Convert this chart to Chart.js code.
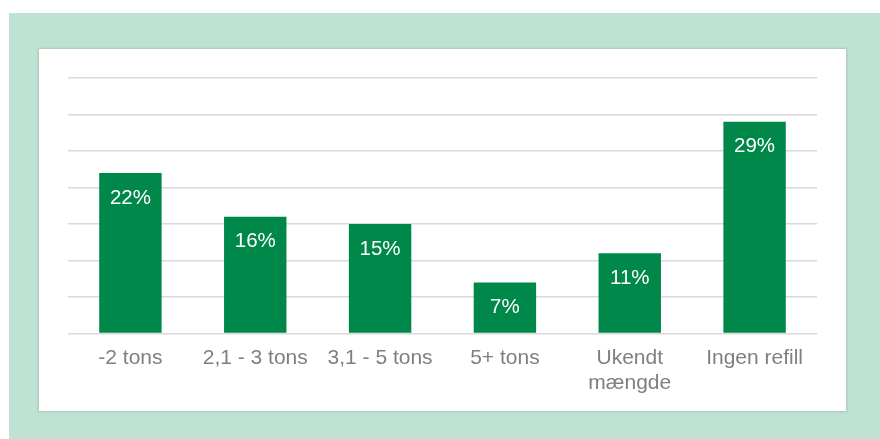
<!DOCTYPE html>
<html>
<head>
<meta charset="utf-8">
<script src="https://cdn.jsdelivr.net/npm/chart.js@4.4.0/dist/chart.umd.min.js"></script>
<style>
  html, body { margin: 0; padding: 0; background: #fff; }
  body { width: 880px; height: 439px; position: relative; overflow: hidden; }
  .frame { position: absolute; left: 9px; top: 13px; right: 0; bottom: 0; background: #c0e2d2; }
  .panel { position: absolute; left: 39px; top: 49px; width: 807px; height: 362px; background: #fff;
           box-shadow: 0 0 2px 1px rgba(0,0,0,0.12); }
</style>
</head>
<body>
<div class="frame"></div>
<div class="panel"><canvas id="chart" width="807" height="362"></canvas></div>
<script>
// chart data
const categories = ['-2 tons', '2,1 - 3 tons', '3,1 - 5 tons', '5+ tons', ['Ukendt', 'mængde'], 'Ingen refill'];
const shares = [22, 16, 15, 7, 11, 29];
const valueLabels = ['22%', '16%', '15%', '7%', '11%', '29%'];

// draws the white % label just inside the top of each bar
const barLabels = {
  id: 'barLabels',
  afterDatasetsDraw(chart) {
    const ctx = chart.ctx;
    const meta = chart.getDatasetMeta(0);
    ctx.save();
    ctx.fillStyle = '#ffffff';
    ctx.font = '20.5px "Liberation Sans", Arial, sans-serif';
    ctx.textAlign = 'center';
    ctx.textBaseline = 'middle';
    meta.data.forEach((bar, i) => {
      ctx.fillText(valueLabels[i], bar.x, bar.y + 25);
    });
    ctx.restore();
  }
};

new Chart(document.getElementById('chart'), {
  type: 'bar',
  data: {
    labels: categories,
    datasets: [{
      data: shares,
      backgroundColor: '#00874a',
      barPercentage: 0.5,
      categoryPercentage: 1
    }]
  },
  options: {
    responsive: false,
    animation: false,
    layout: { padding: { left: 29, right: 29, top: 29, bottom: 11 } },
    plugins: { legend: { display: false }, tooltip: { enabled: false } },
    scales: {
      x: {
        grid: { display: false },
        border: { display: false },
        ticks: {
          color: '#7f7f7f',
          padding: 4,
          maxRotation: 0,
          autoSkip: false,
          font: { family: '"Liberation Sans", Arial, sans-serif', size: 21, lineHeight: 1.2 }
        }
      },
      y: {
        min: 0,
        max: 35,
        ticks: { stepSize: 5, display: false },
        grid: { color: '#d9d9d9', lineWidth: 1.5, drawTicks: false },
        border: { display: false }
      }
    }
  },
  plugins: [barLabels]
});
</script>
</body>
</html>
